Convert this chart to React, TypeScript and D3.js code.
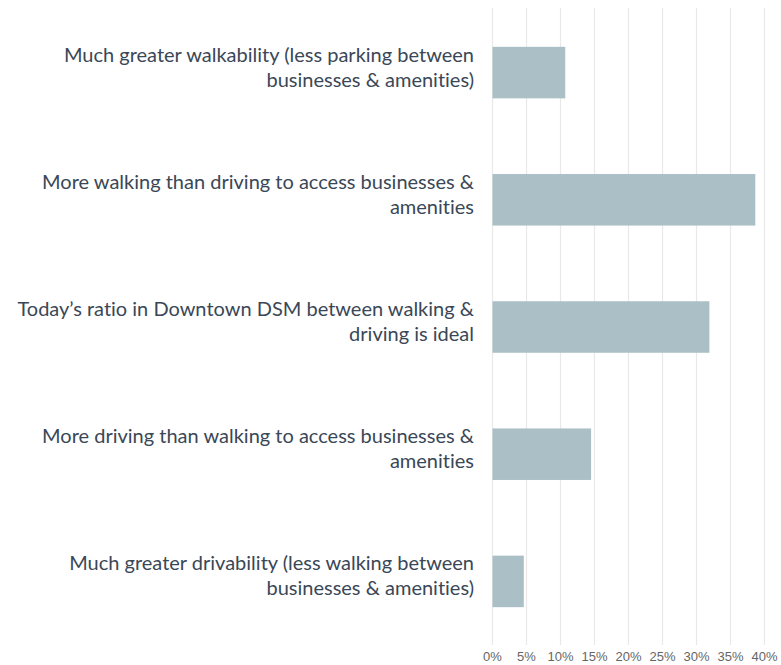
import React from "react";
import * as d3 from "d3";

const categories: string[][] = [
  ["Much greater walkability (less parking between", "businesses & amenities)"],
  ["More walking than driving to access businesses &", "amenities"],
  ["Today\u2019s ratio in Downtown DSM between walking &", "driving is ideal"],
  ["More driving than walking to access businesses &", "amenities"],
  ["Much greater drivability (less walking between", "businesses & amenities)"],
];
const values: number[] = [10.7, 38.65, 31.9, 14.5, 4.6];
const ticks: number[] = [0, 5, 10, 15, 20, 25, 30, 35, 40];

const W = 781;
const H = 665;
const x0 = 492.5;
const x1 = 764.5;
const yTop = 9;
const yBot = 645;

export default function App() {
  const x = d3.scaleLinear().domain([0, 40]).range([x0, x1]);
  const y = d3
    .scaleBand<number>()
    .domain(d3.range(values.length))
    .range([yTop, yBot])
    .paddingInner(0.595)
    .paddingOuter(0.2975);
  return (
    <svg
      width={W}
      height={H}
      style={{ position: "absolute", left: 0, top: 0, background: "#fff" }}
    >
      {ticks.map((t) => (
        <line
          key={"g" + t}
          x1={x(t)}
          x2={x(t)}
          y1={yTop - 1}
          y2={yBot}
          stroke="#e8e8e8"
          strokeWidth={1.2}
        />
      ))}
      {values.map((v, i) => (
        <rect
          key={"b" + i}
          x={x(0)}
          y={y(i)!}
          width={x(v) - x(0)}
          height={y.bandwidth()}
          fill="#abbfc6"
        />
      ))}
      {categories.map((lines, i) => {
        const cy = y(i)! + y.bandwidth() / 2;
        return (
          <text
            key={"l" + i}
            x={474}
            textAnchor="end"
            fontFamily="Lato"
            fontSize={20}
            fill="#3a4757"
            style={{ fontVariantLigatures: "none" }}
          >
            {lines.map((ln, j) => (
              <tspan key={j} x={474} y={cy - 11 + j * 25}>
                {ln}
              </tspan>
            ))}
          </text>
        );
      })}
      {ticks.map((t) => (
        <text
          key={"t" + t}
          x={x(t)}
          y={661}
          textAnchor="middle"
          fontFamily="Liberation Sans, Arial, sans-serif"
          fontSize={13}
          fill="#666"
        >
          {t + "%"}
        </text>
      ))}
    </svg>
  );
}
